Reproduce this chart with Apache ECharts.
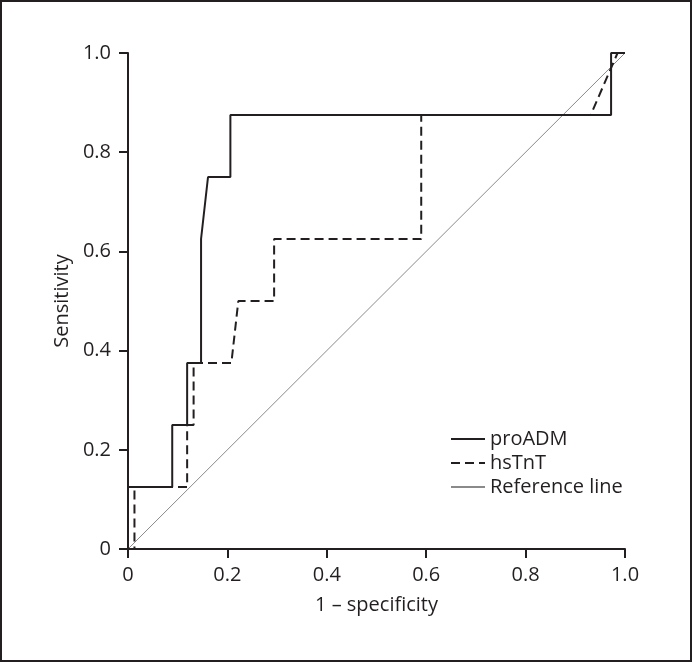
<!DOCTYPE html>
<html>
<head>
<meta charset="utf-8">
<script src="https://cdn.jsdelivr.net/npm/echarts@6/dist/echarts.min.js"></script>
<style>
html,body{margin:0;padding:0;background:#fff;}
#chart{width:692px;height:662px;}
</style>
</head>
<body>
<div id="chart"></div>
<script>
// ROC curve data (1 - specificity, sensitivity)
const proADM_fpr = [0, 0, 0.089, 0.089, 0.119, 0.119, 0.147, 0.147, 0.161, 0.206, 0.206, 0.972, 0.972, 1.0];
const proADM_tpr = [0, 0.125, 0.125, 0.25, 0.25, 0.375, 0.375, 0.625, 0.75, 0.75, 0.875, 0.875, 1.0, 1.0];

const hsTnT_fpr = [0, 0.013, 0.013, 0.119, 0.119, 0.132, 0.132, 0.208, 0.222, 0.294, 0.294, 0.590, 0.590, 0.931, 0.985, 1.0];
const hsTnT_tpr = [0, 0, 0.125, 0.125, 0.25, 0.25, 0.375, 0.375, 0.5, 0.5, 0.625, 0.625, 0.875, 0.875, 1.0, 1.0];

const ref_x = [0, 1];
const ref_y = [0, 1];

const seriesNames = ['proADM', 'hsTnT', 'Reference line'];
const xAxisTitle = '1 – specificity';
const yAxisTitle = 'Sensitivity';

function pairs(xs, ys) { return xs.map((x, i) => [x, ys[i]]); }
function fmt(v) { return v === 0 ? '0' : v.toFixed(1); }

const ink = '#231f20';
const font = 'Open Sans';

const chart = echarts.init(document.getElementById('chart'), null, {renderer: 'canvas'});
chart.setOption({
  animation: false,
  backgroundColor: '#fff',
  textStyle: {fontFamily: font, color: ink},
  graphic: [{
    type: 'rect', shape: {x: 1, y: 1, width: 690, height: 660},
    style: {fill: 'none', stroke: ink, lineWidth: 2}, silent: true
  }],
  grid: {left: 128, right: 67, top: 53, bottom: 113, containLabel: false},
  legend: {
    orient: 'vertical', left: 445, top: 424,
    itemWidth: 34, itemHeight: 14, itemGap: 4,
    itemStyle: {opacity: 0},
    textStyle: {fontFamily: font, fontSize: 20, color: ink},
    data: seriesNames
  },
  xAxis: {
    type: 'value', min: 0, max: 1, interval: 0.2,
    name: xAxisTitle, nameLocation: 'middle', nameGap: 46,
    nameTextStyle: {fontFamily: font, fontSize: 20, color: ink},
    axisLine: {lineStyle: {color: ink, width: 2}},
    axisTick: {show: true, inside: false, length: 9, lineStyle: {color: ink, width: 2}},
    axisLabel: {margin: 16, fontFamily: font, fontSize: 20, color: ink, formatter: fmt},
    splitLine: {show: false}
  },
  yAxis: {
    type: 'value', min: 0, max: 1, interval: 0.2,
    name: yAxisTitle, nameLocation: 'middle', nameGap: 54, nameRotate: 90,
    nameTextStyle: {fontFamily: font, fontSize: 20, color: ink},
    axisLine: {show: true, lineStyle: {color: ink, width: 2}},
    axisTick: {show: true, inside: false, length: 9, lineStyle: {color: ink, width: 2}},
    axisLabel: {margin: 17, fontFamily: font, fontSize: 20, color: ink, formatter: fmt},
    splitLine: {show: false}
  },
  series: [
    {
      name: seriesNames[2], type: 'line', data: pairs(ref_x, ref_y),
      symbol: 'none', lineStyle: {color: '#8a8a8a', width: 1}, itemStyle: {color: '#8a8a8a'}, z: 1
    },
    {
      name: seriesNames[1], type: 'line', data: pairs(hsTnT_fpr, hsTnT_tpr),
      symbol: 'none', lineStyle: {color: ink, width: 2, type: [9, 5]}, itemStyle: {color: ink}, z: 2
    },
    {
      name: seriesNames[0], type: 'line', data: pairs(proADM_fpr, proADM_tpr),
      symbol: 'none', lineStyle: {color: ink, width: 2}, itemStyle: {color: ink}, z: 3
    }
  ]
});
</script>
</body>
</html>
